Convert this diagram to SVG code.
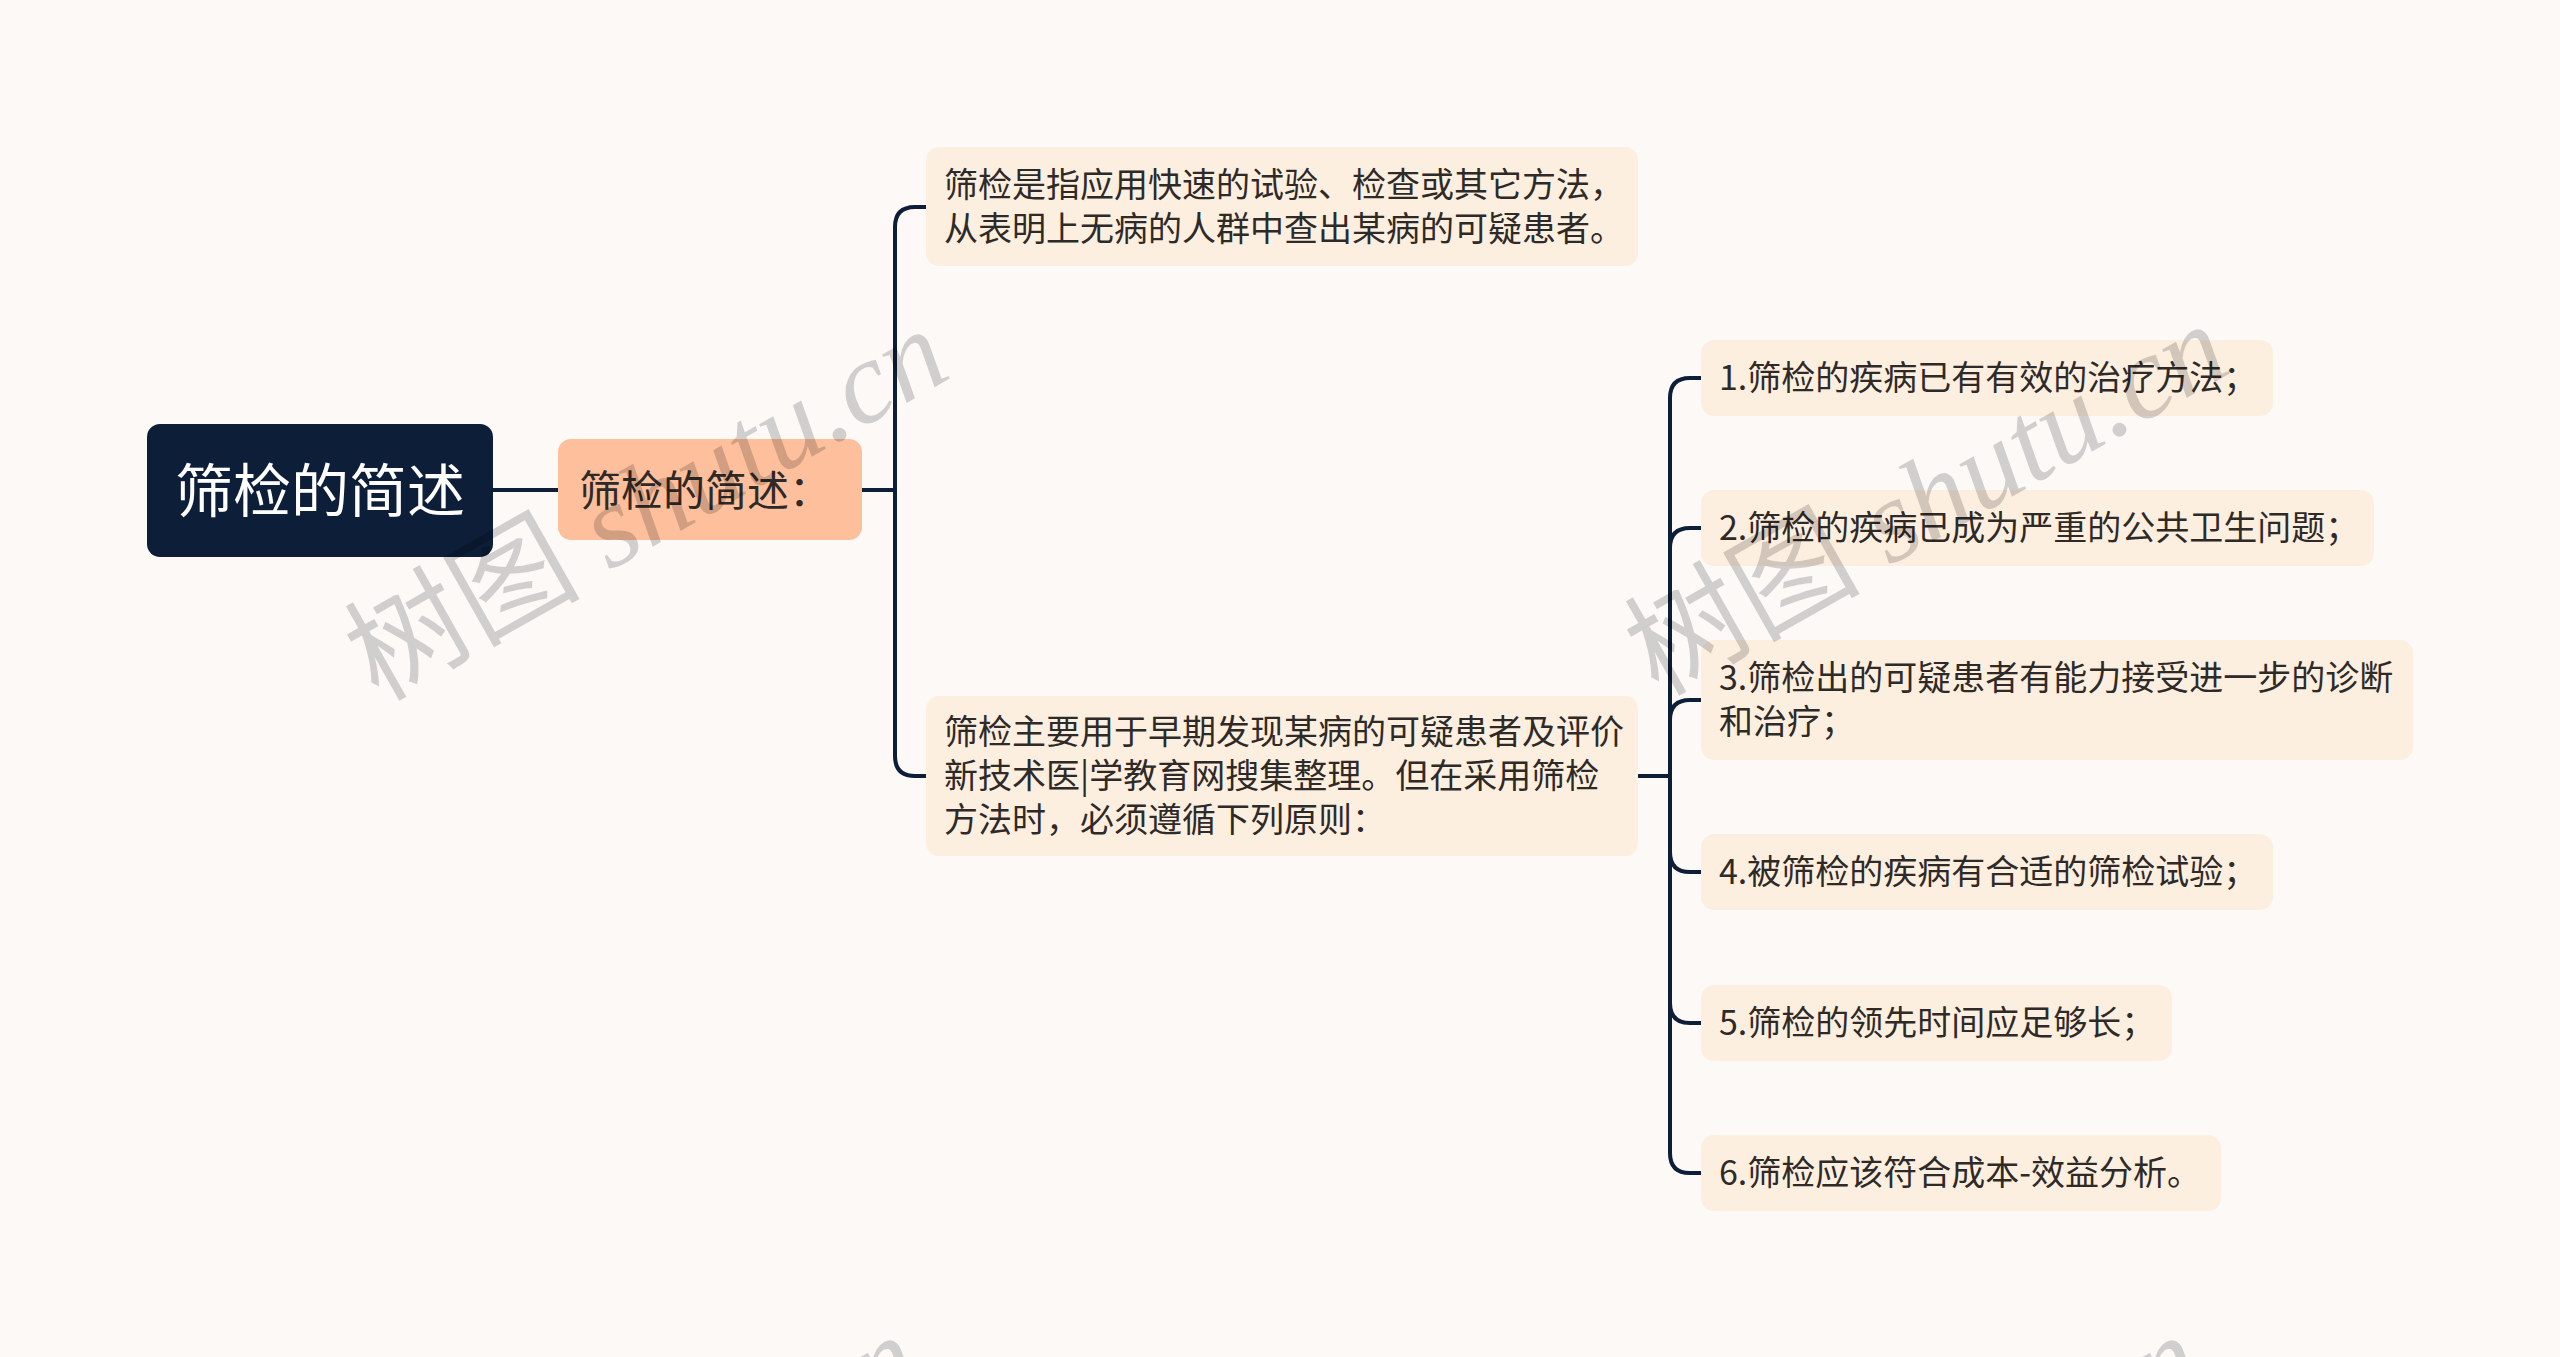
<svg xmlns="http://www.w3.org/2000/svg" width="2560" height="1357" viewBox="0 0 2560 1357">
<style>
.bg{fill:#FCF9F7}
.root{fill:#0D1E38}
.sub{fill:#FDBF9C}
.leaf{fill:#FDEFE0}
.t{font-family:"Noto Sans CJK SC","Noto Sans",sans-serif;fill:#2E2A28}
.t34{font-size:34px}
.conn{fill:none;stroke:#0D1E38;stroke-width:4;stroke-linecap:round;stroke-linejoin:round}
.wm{font-family:"Liberation Serif","Noto Sans CJK SC",serif;font-size:118px;fill:#000;fill-opacity:0.17}
</style>
<rect class="bg" x="0" y="0" width="2560" height="1357"/>
<g id="connectors">
<path class="conn" d="M493,490 L558,490"/>
<path class="conn" d="M862,490 L895,490 L895,227 Q895,207 915,207 L926,207"/>
<path class="conn" d="M862,490 L895,490 L895,756 Q895,776 915,776 L926,776"/>
<path class="conn" d="M1638,776 L1670,776 L1670,398 Q1670,378 1690,378 L1701,378"/>
<path class="conn" d="M1638,776 L1670,776 L1670,548 Q1670,528 1690,528 L1701,528"/>
<path class="conn" d="M1638,776 L1670,776 L1670,720 Q1670,700 1690,700 L1701,700"/>
<path class="conn" d="M1638,776 L1670,776 L1670,852 Q1670,872 1690,872 L1701,872"/>
<path class="conn" d="M1638,776 L1670,776 L1670,1003 Q1670,1023 1690,1023 L1701,1023"/>
<path class="conn" d="M1638,776 L1670,776 L1670,1153 Q1670,1173 1690,1173 L1701,1173"/>
</g>
<g id="root">
<rect class="root" x="147" y="424" width="346" height="133" rx="13"/>
<text class="t" x="320" y="512" font-size="58" text-anchor="middle" style="fill:#FFFFFF">筛检的简述</text>
</g>
<g id="sub">
<rect class="sub" x="558" y="439" width="304" height="101" rx="13"/>
<text class="t" x="579" y="506" font-size="42">筛检的简述：</text>
</g>
<g id="branch1">
<rect class="leaf" x="926" y="147" width="712" height="119" rx="13"/>
<text class="t t34" x="944" y="197">筛检是指应用快速的试验、检查或其它方法，</text>
<text class="t t34" x="944" y="241">从表明上无病的人群中查出某病的可疑患者。</text>
</g>
<g id="branch2">
<rect class="leaf" x="926" y="696" width="712" height="160" rx="13"/>
<text class="t t34" x="944" y="744">筛检主要用于早期发现某病的可疑患者及评价</text>
<text class="t t34" x="944" y="788">新技术医|学教育网搜集整理。但在采用筛检</text>
<text class="t t34" x="944" y="832">方法时，必须遵循下列原则：</text>
</g>
<g id="leaf1">
<rect class="leaf" x="1701" y="340" width="572" height="76" rx="13"/>
<text class="t t34" x="1719" y="390">1.筛检的疾病已有有效的治疗方法；</text>
</g>
<g id="leaf2">
<rect class="leaf" x="1701" y="490" width="673" height="76" rx="13"/>
<text class="t t34" x="1719" y="540">2.筛检的疾病已成为严重的公共卫生问题；</text>
</g>
<g id="leaf3">
<rect class="leaf" x="1701" y="640" width="712" height="120" rx="13"/>
<text class="t t34" x="1719" y="690">3.筛检出的可疑患者有能力接受进一步的诊断</text>
<text class="t t34" x="1719" y="734">和治疗；</text>
</g>
<g id="leaf4">
<rect class="leaf" x="1701" y="834" width="572" height="76" rx="13"/>
<text class="t t34" x="1719" y="884">4.被筛检的疾病有合适的筛检试验；</text>
</g>
<g id="leaf5">
<rect class="leaf" x="1701" y="985" width="471" height="76" rx="13"/>
<text class="t t34" x="1719" y="1035">5.筛检的领先时间应足够长；</text>
</g>
<g id="leaf6">
<rect class="leaf" x="1701" y="1135" width="520" height="76" rx="13"/>
<text class="t t34" x="1719" y="1185">6.筛检应该符合成本-效益分析。</text>
</g>
<g id="watermarks">
<text class="wm" transform="translate(378,702) rotate(-29.5)">树图 <tspan font-style="italic">shutu.cn</tspan></text>
<text class="wm" transform="translate(1658,697) rotate(-29.5)">树图 <tspan font-style="italic">shutu.cn</tspan></text>
<text class="wm" transform="translate(350,1708) rotate(-29.5)">树图 <tspan font-style="italic">shutu.cn</tspan></text>
<text class="wm" transform="translate(1632,1708) rotate(-29.5)">树图 <tspan font-style="italic">shutu.cn</tspan></text>
</g>
</svg>
